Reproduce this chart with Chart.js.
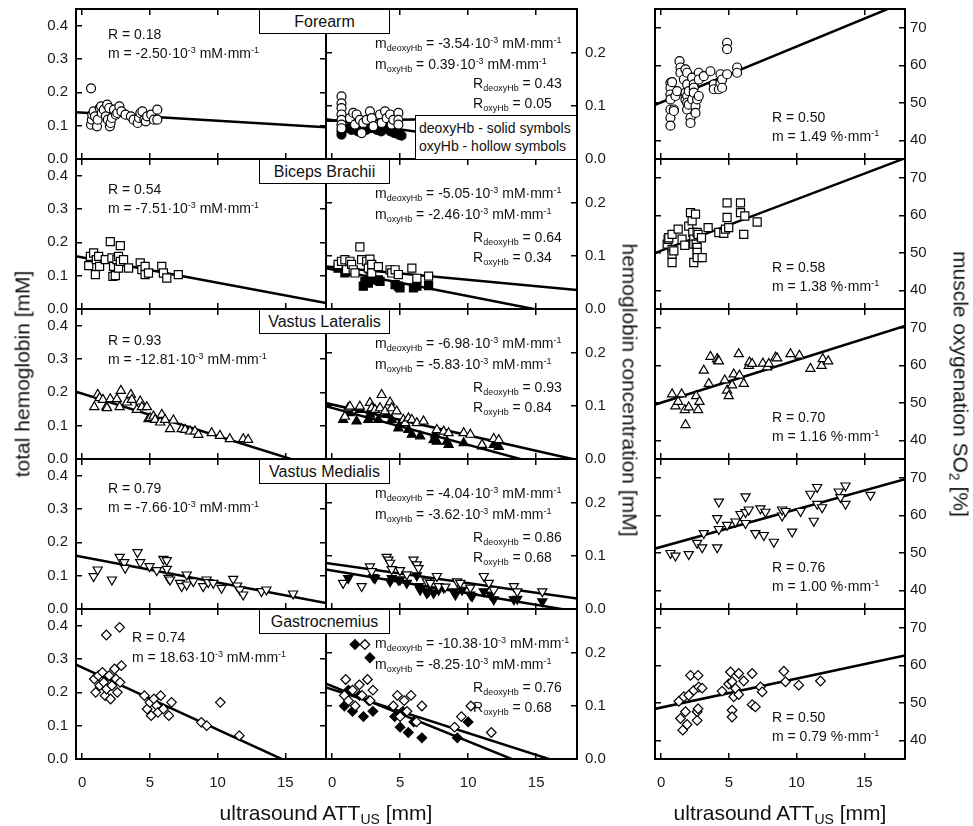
<!DOCTYPE html>
<html>
<head>
<meta charset="utf-8">
<title>Muscle hemoglobin vs ultrasound ATT</title>
<script src="https://cdn.jsdelivr.net/npm/chart.js"></script>
<style>
  body { margin: 0; background: #fff; }
  #fig { position: relative; width: 973px; height: 826px; overflow: hidden; font-family: "Liberation Sans", Arial, Helvetica, sans-serif; color: #111; }
  #fig canvas { position: absolute; left: 0; top: 0; }
  .note { position: absolute; white-space: nowrap; font-size: 14px; line-height: 1; transform: translateY(-50%); }
  .note sup, .note sub { font-size: 9px; line-height: 0; }
  .note sup { vertical-align: 5px; }
  .note sub { vertical-align: -3px; }
  .name { position: absolute; width: 131px; height: 25px; box-sizing: border-box; border: 1px solid #000; background: #fff; font-size: 16px; line-height: 23px; text-align: center; }
  .legend { position: absolute; left: 415px; top: 115px; width: 162px; height: 45px; box-sizing: border-box; border: 1px solid #000; background: #fff; font-size: 14px; line-height: 18px; padding: 3px 0 0 3px; white-space: nowrap; }
  .title { position: absolute; white-space: nowrap; font-size: 21px; line-height: 1; }
  .title sub { font-size: 14px; vertical-align: -4px; line-height: 0; }
</style>
</head>
<body>
<div id="fig">
  <div class="title" style="left:22px; top:374px; transform:translate(-50%,-50%) rotate(-90deg);">total hemoglobin [mM]</div>
  <div class="title" style="left:630px; top:390px; transform:translate(-50%,-50%) rotate(90deg);">hemoglobin concentration [mM]</div>
  <div class="title" style="left:961px; top:384px; transform:translate(-50%,-50%) rotate(90deg);">muscle oxygenation SO<sub>2</sub> [%]</div>
  <div class="title" style="left:326px; top:812px; transform:translate(-50%,-50%);">ultrasound ATT<sub>US</sub> [mm]</div>
  <div class="title" style="left:780px; top:812px; transform:translate(-50%,-50%);">ultrasound ATT<sub>US</sub> [mm]</div>
</div>

<script>
  // tick labels
  const X_TICKS = [0, 5, 10, 15];
  const HB_TICKS = [0, 0.1, 0.2, 0.3, 0.4];
  const CONC_TICKS = [0, 0.1, 0.2];
  const SO2_TICKS = [40, 50, 60, 70];

  const MUSCLES = ['Forearm', 'Biceps Brachii', 'Vastus Lateralis', 'Vastus Medialis', 'Gastrocnemius'];

  // ---- Forearm ----
  const foTot = [[0.66,0.212],[0.66,0.103],[0.72,0.118],[0.75,0.133],[0.85,0.143],[0.95,0.128],[1.10,0.098],[1.15,0.118],[1.30,0.153],[1.40,0.158],[1.45,0.138],[1.60,0.148],[1.75,0.128],[1.85,0.163],[1.90,0.118],[2.00,0.153],[2.05,0.098],[2.10,0.108],[2.20,0.123],[2.35,0.148],[2.50,0.133],[2.60,0.138],[2.75,0.158],[2.90,0.143],[3.20,0.133],[3.60,0.128],[3.80,0.118],[4.10,0.108],[4.20,0.123],[4.30,0.138],[4.45,0.143],[4.60,0.118],[4.70,0.113],[4.80,0.128],[5.10,0.133],[5.30,0.118],[5.55,0.148],[5.55,0.118]];
  const foTotFit = [[-0.45,0.140],[18,0.095]];
  const foDeoxy = [[0.69,0.046],[0.69,0.052],[1.18,0.058],[1.43,0.055],[1.90,0.052],[2.30,0.058],[2.50,0.055],[2.90,0.058],[3.30,0.055],[3.60,0.052],[3.90,0.058],[4.30,0.052],[4.60,0.049],[4.90,0.046],[5.10,0.044]];
  const foOxy = [[0.69,0.118],[0.69,0.105],[0.69,0.096],[0.69,0.084],[0.69,0.074],[0.69,0.065],[0.69,0.058],[1.31,0.077],[1.55,0.087],[1.68,0.065],[1.80,0.084],[2.04,0.074],[2.17,0.049],[2.29,0.068],[2.54,0.074],[2.78,0.090],[2.91,0.077],[3.03,0.062],[3.52,0.084],[3.64,0.068],[3.89,0.090],[4.01,0.077],[4.26,0.084],[4.38,0.065],[4.50,0.074],[4.87,0.087],[4.87,0.074],[4.87,0.065]];
  const foDeoxyFit = [[-0.45,0.075],[18,0.010]];
  const foOxyFit = [[-0.45,0.072],[18,0.079]];
  const foSO2 = [[0.69,55.3],[0.69,54.0],[0.69,52.2],[0.69,50.9],[0.69,48.2],[0.69,46.0],[0.69,43.9],[0.81,55.5],[0.94,48.2],[0.94,47.8],[1.06,51.8],[1.18,53.1],[1.36,61.1],[1.43,59.4],[1.43,58.0],[1.68,56.2],[1.80,58.9],[1.80,52.7],[1.80,50.9],[1.92,58.0],[1.92,54.9],[1.92,51.8],[1.92,50.0],[1.92,48.2],[2.04,53.1],[2.04,49.5],[2.17,46.0],[2.17,44.6],[2.29,56.7],[2.29,50.9],[2.41,54.9],[2.41,54.0],[2.41,52.7],[2.54,49.1],[2.54,47.3],[2.66,50.9],[2.78,58.0],[2.78,56.2],[2.78,51.8],[3.15,57.1],[3.64,58.4],[3.89,54.9],[3.89,53.6],[4.26,53.6],[4.38,57.6],[4.38,55.3],[4.50,56.2],[4.50,54.0],[4.87,66.0],[4.87,64.3],[4.87,57.6],[5.61,59.4],[5.61,58.0]];
  const foSO2Fit = [[-0.54,49.3],[18,76.9]];

  // ---- Biceps Brachii ----
  const biTot = [[0.49,0.130],[0.61,0.158],[0.85,0.168],[0.98,0.103],[1.05,0.148],[1.22,0.158],[1.29,0.128],[1.71,0.148],[2.08,0.202],[2.20,0.153],[2.27,0.098],[2.32,0.128],[2.45,0.100],[2.57,0.148],[2.69,0.158],[2.82,0.190],[2.69,0.123],[2.82,0.143],[3.06,0.148],[3.43,0.123],[4.29,0.138],[4.41,0.118],[4.65,0.128],[4.65,0.103],[4.90,0.108],[5.88,0.128],[6.00,0.108],[6.25,0.093],[7.10,0.103]];
  const biTotFit = [[-0.45,0.158],[18,0.018]];
  const biDeoxy = [[0.44,0.077],[0.94,0.068],[1.55,0.071],[2.29,0.043],[2.41,0.052],[2.66,0.049],[2.78,0.074],[2.91,0.055],[3.40,0.055],[3.52,0.052],[4.63,0.046],[4.87,0.043],[4.99,0.040],[5.98,0.040],[6.23,0.043],[7.09,0.044]];
  const biOxy = [[0.44,0.084],[0.69,0.090],[0.94,0.093],[1.06,0.074],[1.31,0.090],[1.43,0.084],[1.55,0.074],[1.68,0.068],[2.04,0.117],[2.17,0.093],[2.54,0.090],[2.66,0.077],[2.78,0.094],[2.91,0.084],[2.91,0.068],[3.40,0.080],[4.26,0.074],[4.38,0.068],[4.63,0.074],[4.87,0.065],[5.86,0.077],[6.23,0.058],[7.09,0.062]];
  const biDeoxyFit = [[-0.45,0.077],[18,-0.016]];
  const biOxyFit = [[-0.45,0.080],[18,0.036]];
  const biSO2 = [[0.45,52.3],[0.52,53.6],[0.57,54.0],[0.81,54.9],[0.81,50.9],[0.81,49.6],[0.81,47.4],[0.94,50.5],[1.26,56.3],[1.55,53.6],[1.75,52.0],[2.04,57.1],[2.17,60.7],[2.29,58.5],[2.34,55.4],[2.41,53.6],[2.41,52.3],[2.41,47.4],[2.54,60.3],[2.59,52.3],[2.66,55.4],[2.66,51.4],[2.66,50.1],[2.66,48.7],[2.73,54.9],[2.98,54.0],[3.03,48.7],[3.47,56.7],[4.26,55.4],[4.63,55.2],[4.75,56.3],[4.87,63.3],[4.87,59.4],[4.99,56.7],[5.86,63.3],[5.86,60.7],[6.10,54.9],[6.18,59.8],[7.09,58.2]];
  const biSO2Fit = [[-0.54,49.8],[18,75.2]];

  // ---- Vastus Lateralis ----
  const vlTot = [[0.90,0.156],[1.15,0.193],[1.29,0.183],[1.54,0.178],[1.79,0.156],[1.84,0.153],[2.08,0.180],[2.57,0.180],[2.77,0.156],[2.86,0.205],[3.31,0.170],[3.60,0.193],[3.67,0.178],[4.04,0.148],[4.29,0.173],[4.41,0.156],[4.78,0.156],[4.90,0.120],[5.02,0.123],[5.27,0.128],[5.39,0.118],[5.76,0.110],[5.88,0.133],[6.12,0.118],[6.49,0.090],[6.74,0.116],[7.35,0.090],[7.60,0.088],[7.96,0.083],[8.33,0.083],[8.58,0.073],[9.56,0.078],[10.17,0.070],[10.90,0.060],[11.89,0.060],[12.25,0.058]];
  const vlTotFit = [[-0.45,0.202],[18,-0.033]];
  const vlDeoxy = [[0.81,0.074],[1.31,0.087],[1.80,0.071],[2.04,0.093],[2.66,0.074],[2.78,0.084],[3.40,0.074],[4.01,0.084],[4.38,0.074],[4.87,0.058],[4.99,0.065],[5.61,0.055],[5.86,0.046],[6.47,0.043],[7.46,0.036],[7.58,0.046],[7.70,0.033],[8.44,0.033],[8.56,0.027],[9.67,0.030],[11.02,0.024],[11.88,0.027],[12.25,0.023]];
  const vlOxy = [[0.94,0.080],[1.18,0.096],[1.31,0.099],[2.04,0.099],[2.78,0.106],[2.91,0.096],[3.15,0.093],[3.52,0.096],[3.64,0.121],[3.89,0.090],[4.26,0.107],[4.38,0.096],[4.75,0.090],[5.24,0.074],[5.37,0.068],[5.61,0.077],[5.86,0.074],[6.23,0.068],[6.72,0.071],[7.70,0.055],[8.20,0.052],[8.56,0.049],[9.67,0.049],[10.16,0.046],[11.02,0.027],[11.88,0.038],[12.25,0.036]];
  const vlDeoxyFit = [[-0.54,0.100],[18,-0.029]];
  const vlOxyFit = [[-0.54,0.106],[18,-0.002]];
  const vlSO2 = [[0.81,52.3],[1.06,49.1],[1.26,50.3],[1.51,52.3],[1.75,48.1],[1.80,44.1],[2.04,48.8],[2.59,51.8],[2.73,48.1],[2.83,50.3],[3.15,58.6],[3.52,55.1],[3.64,62.3],[4.14,61.7],[4.21,61.2],[4.26,61.1],[4.70,56.0],[4.87,53.3],[4.99,51.8],[5.24,54.7],[5.36,57.6],[5.73,63.0],[5.78,57.3],[6.10,55.1],[6.47,59.9],[6.52,60.8],[6.72,60.4],[7.51,60.5],[7.83,59.5],[7.95,60.4],[8.44,62.1],[8.56,61.9],[9.55,63.0],[10.21,62.6],[11.02,59.1],[11.84,59.9],[11.93,61.7],[12.33,61.1]];
  const vlSO2Fit = [[-0.54,49.4],[18,70.5]];

  // ---- Vastus Medialis ----
  const vmTot = [[0.85,0.098],[1.15,0.118],[2.20,0.088],[2.77,0.156],[3.11,0.140],[3.18,0.123],[4.09,0.170],[4.29,0.140],[4.98,0.128],[5.51,0.116],[6.00,0.150],[6.25,0.146],[6.25,0.120],[6.37,0.093],[6.49,0.088],[7.23,0.078],[7.35,0.068],[7.72,0.103],[7.72,0.073],[8.21,0.083],[8.94,0.068],[9.19,0.088],[9.31,0.080],[9.68,0.078],[10.29,0.063],[11.15,0.090],[11.44,0.070],[11.64,0.058],[11.89,0.043],[13.24,0.053],[13.60,0.058],[15.57,0.046]];
  const vmTotFit = [[-0.45,0.160],[18,0.018]];
  const vmDeoxy = [[1.18,0.058],[3.03,0.060],[3.15,0.058],[4.26,0.052],[4.38,0.058],[4.87,0.055],[4.99,0.055],[5.49,0.049],[6.23,0.063],[6.35,0.043],[6.47,0.036],[6.96,0.030],[7.09,0.033],[7.46,0.030],[7.83,0.036],[8.20,0.040],[8.93,0.033],[9.06,0.027],[9.55,0.036],[10.16,0.027],[10.29,0.024],[11.15,0.033],[11.64,0.027],[11.88,0.018],[13.36,0.018],[13.61,0.019],[15.45,0.014]];
  const vmOxy = [[0.81,0.049],[2.17,0.043],[2.78,0.080],[2.91,0.071],[4.01,0.098],[4.14,0.093],[4.26,0.087],[4.38,0.075],[4.99,0.073],[5.49,0.065],[5.98,0.093],[6.23,0.084],[6.35,0.077],[6.96,0.052],[7.21,0.049],[7.70,0.062],[7.83,0.043],[8.32,0.042],[9.18,0.052],[9.42,0.049],[10.16,0.040],[11.15,0.062],[11.52,0.049],[11.88,0.036],[13.36,0.043],[13.61,0.033],[15.45,0.033]];
  const vmDeoxyFit = [[-0.54,0.075],[18,-0.005]];
  const vmOxyFit = [[-0.54,0.087],[18,0.020]];
  const vmSO2 = [[0.69,49.9],[1.06,49.2],[2.04,49.6],[2.66,52.6],[3.03,51.4],[3.15,55.2],[4.14,51.4],[4.14,59.2],[4.26,63.6],[4.26,56.3],[4.87,57.4],[5.49,58.3],[5.86,60.3],[6.23,65.0],[6.23,60.8],[6.23,57.9],[6.47,61.5],[6.96,55.2],[7.33,61.8],[7.58,54.7],[7.70,60.9],[8.32,52.9],[8.93,59.9],[8.93,61.5],[9.18,61.1],[9.67,55.6],[10.29,61.1],[11.02,65.7],[11.27,58.5],[11.52,67.5],[11.52,63.0],[11.88,62.1],[13.11,66.3],[13.24,64.8],[13.61,67.9],[13.61,63.0],[15.45,65.4]];
  const vmSO2Fit = [[-0.54,51.0],[18,69.6]];

  // ---- Gastrocnemius ----
  const gaTot = [[1.79,0.372],[2.77,0.395],[0.9,0.24],[1.0,0.20],[1.2,0.25],[1.3,0.22],[1.5,0.26],[1.6,0.23],[1.7,0.19],[1.8,0.21],[2.0,0.25],[2.1,0.18],[2.2,0.22],[2.4,0.27],[2.5,0.24],[2.6,0.20],[2.8,0.23],[2.9,0.28],[4.6,0.19],[4.8,0.15],[5.0,0.17],[5.1,0.13],[5.3,0.18],[5.5,0.16],[5.6,0.14],[5.8,0.19],[6.0,0.15],[6.4,0.13],[6.6,0.17],[8.8,0.11],[9.2,0.10],[10.2,0.17],[11.6,0.07]];
  const gaTotFit = [[-0.45,0.283],[18,-0.061]];
  const gaDeoxy = [[1.68,0.216],[2.78,0.191],[0.9,0.10],[1.2,0.13],[1.5,0.09],[2.0,0.12],[2.3,0.08],[2.7,0.11],[3.0,0.09],[4.6,0.08],[5.0,0.06],[5.2,0.09],[5.6,0.05],[6.0,0.07],[6.6,0.04],[9.2,0.04],[10.0,0.07]];
  const gaOxy = [[2.41,0.216],[0.9,0.12],[1.0,0.15],[1.2,0.11],[1.5,0.13],[1.7,0.10],[2.0,0.14],[2.2,0.12],[2.6,0.15],[2.8,0.11],[3.0,0.13],[4.5,0.10],[4.8,0.12],[5.0,0.08],[5.3,0.11],[5.5,0.09],[5.8,0.12],[6.2,0.07],[6.6,0.10],[9.0,0.06],[9.5,0.08],[10.2,0.10],[11.7,0.05]];
  const gaDeoxyFit = [[-0.45,0.142],[18,-0.050]];
  const gaOxyFit = [[-0.45,0.135],[18,-0.017]];
  const gaSO2 = [[1.31,50.4],[1.43,45.8],[1.60,42.7],[1.68,51.6],[1.80,47.6],[1.92,44.2],[2.04,52.0],[2.17,57.3],[2.41,53.3],[2.66,47.6],[2.66,45.3],[2.73,57.3],[2.73,48.4],[2.78,54.2],[3.03,53.9],[4.50,53.1],[4.99,55.0],[5.12,58.2],[5.24,48.0],[5.24,46.2],[5.24,55.6],[5.36,51.6],[5.49,53.8],[5.73,57.8],[5.73,52.2],[6.10,55.8],[6.72,57.8],[6.72,49.5],[6.96,48.9],[7.33,54.2],[7.46,52.9],[9.06,58.4],[9.18,55.6],[10.16,54.7],[11.76,55.8]];
  const gaSO2Fit = [[-0.54,48.3],[18,62.6]];

  // ---- layout ----
  const W = 973, H = 826;
  const FONT = '"Liberation Sans", Arial, Helvetica, sans-serif';
  const COLS = [[76, 326], [326, 577], [655, 905]];
  const ROW_TOPS = [9, 159, 309, 459, 609];
  const ROW_H = 150;
  const X_RANGE = [-0.45, 18];
  const Y_RANGES = [[0, 0.45], [0, 0.283], [35, 75]];
  const Y_TICKS = [HB_TICKS, CONC_TICKS, SO2_TICKS];
  const MARKERS = ['circle', 'rect', 'triangle', 'triangle', 'rectRot'];
  const ROTS = [0, 0, 0, 180, 0];
  const RADII = [4.5, 5.7, 5.3, 5.3, 4.8];

  const fig = document.getElementById('fig');

  const pts = arr => arr.map(([x, y]) => ({ x, y }));

  function scatterSet(arr, row, filled, order) {
    return {
      data: pts(arr), showLine: false, order,
      pointStyle: MARKERS[row], pointRotation: ROTS[row], pointRadius: RADII[row],
      pointBorderWidth: 1.2, pointBorderColor: '#000',
      pointBackgroundColor: filled ? '#000' : '#fff'
    };
  }

  function fitSet(arr) {
    return { data: pts(arr), showLine: true, pointRadius: 0, borderColor: '#000', borderWidth: 2.5, clip: 0, order: 10 };
  }

  // every axis box is stretched to the full margin on its side, so labels are not clipped
  function axis(position, range, ticks, showLabels, pad, fmt, size) {
    const vertical = position === 'left' || position === 'right';
    return {
      type: 'linear', axis: vertical ? 'y' : 'x', position,
      min: range[0], max: range[1],
      afterBuildTicks: s => { s.ticks = ticks.map(v => ({ value: v })); },
      afterFit: s => {
        if (vertical) s.width = size; else s.height = size;
        s.paddingTop = s.paddingBottom = s.paddingLeft = s.paddingRight = 0;
      },
      border: { display: true, color: '#000', width: 2 },
      grid: { display: true, drawOnChartArea: false, drawTicks: true, tickLength: -6, color: '#000', lineWidth: 1.5 },
      ticks: { display: showLabels, padding: pad, color: '#1a1a1a', autoSkip: false, maxRotation: 0,
               font: { family: FONT, size: 15 }, callback: fmt }
    };
  }

  function addPanel(col, row, datasets) {
    const [l, r] = COLS[col];
    const t = ROW_TOPS[row], b = t + ROW_H;
    const cv = document.createElement('canvas');
    cv.width = W; cv.height = H;
    cv.style.width = W + 'px'; cv.style.height = H + 'px';
    fig.insertBefore(cv, fig.firstChild);
    const yFmt = col === 2 ? v => String(v) : v => v.toFixed(1);
    const xFmt = v => String(v);
    const yPad = col === 2 ? 11 : 14;
    new Chart(cv, {
      type: 'scatter',
      data: { datasets },
      options: {
        responsive: false, animation: false, devicePixelRatio: 1, events: [],
        layout: { autoPadding: false, padding: 0 },
        plugins: { legend: { display: false }, tooltip: { enabled: false } },
        scales: {
          x: axis('bottom', X_RANGE, X_TICKS, row === 4, 21, xFmt, H - b),
          xt: axis('top', X_RANGE, X_TICKS, false, 0, xFmt, t),
          y: axis('left', Y_RANGES[col], Y_TICKS[col], col === 0, yPad, yFmt, l),
          yr: axis('right', Y_RANGES[col], Y_TICKS[col], col !== 0, yPad, yFmt, W - r)
        }
      }
    });
  }

  const TOT = [[foTot, foTotFit], [biTot, biTotFit], [vlTot, vlTotFit], [vmTot, vmTotFit], [gaTot, gaTotFit]];
  const CONC = [
    [foDeoxy, foOxy, foDeoxyFit, foOxyFit],
    [biDeoxy, biOxy, biDeoxyFit, biOxyFit],
    [vlDeoxy, vlOxy, vlDeoxyFit, vlOxyFit],
    [vmDeoxy, vmOxy, vmDeoxyFit, vmOxyFit],
    [gaDeoxy, gaOxy, gaDeoxyFit, gaOxyFit]
  ];
  const SAT = [[foSO2, foSO2Fit], [biSO2, biSO2Fit], [vlSO2, vlSO2Fit], [vmSO2, vmSO2Fit], [gaSO2, gaSO2Fit]];

  for (let row = 0; row < 5; row++) {
    addPanel(0, row, [scatterSet(TOT[row][0], row, false, 1), fitSet(TOT[row][1])]);
    const [de, ox, deFit, oxFit] = CONC[row];
    addPanel(1, row, [scatterSet(ox, row, false, 1), scatterSet(de, row, true, 2), fitSet(deFit), fitSet(oxFit)]);
    addPanel(2, row, [scatterSet(SAT[row][0], row, false, 1), fitSet(SAT[row][1])]);
  }

  // ---- annotations ----
  const R_TOT = ['0.18', '0.54', '0.93', '0.79', '0.74'];
  const M_TOT = ['-2.50', '-7.51', '-12.81', '-7.66', '18.63'];
  const M_DEOXY = ['-3.54', '-5.05', '-6.98', '-4.04', '-10.38'];
  const M_OXY = ['0.39', '-2.46', '-5.83', '-3.62', '-8.25'];
  const R_DEOXY = ['0.43', '0.64', '0.93', '0.86', '0.76'];
  const R_OXY = ['0.05', '0.34', '0.84', '0.68', '0.68'];
  const R_SAT = ['0.50', '0.58', '0.70', '0.76', '0.50'];
  const M_SAT = ['1.49', '1.38', '1.16', '1.00', '0.79'];

  function note(x, y, html, cls) {
    const d = document.createElement('div');
    d.className = cls || 'note';
    d.style.left = x + 'px';
    d.style.top = y + 'px';
    d.innerHTML = html;
    fig.appendChild(d);
    return d;
  }

  const totR = [34, 189, 340, 488, 637];
  const totM = [53, 208, 359, 507, 657];
  for (let row = 0; row < 5; row++) {
    const t = ROW_TOPS[row];
    const x1 = row === 4 ? 132 : 108;
    note(x1, totR[row], 'R = ' + R_TOT[row]);
    note(x1, totM[row], 'm = ' + M_TOT[row] + '&middot;10<sup>-3</sup> mM&middot;mm<sup>-1</sup>');
    const rOff = row === 0 ? [74, 94] : [78, 98];
    note(375, t + 34, 'm<sub>deoxyHb</sub> = ' + M_DEOXY[row] + '&middot;10<sup>-3</sup> mM&middot;mm<sup>-1</sup>');
    note(375, t + 55, 'm<sub>oxyHb</sub> = ' + M_OXY[row] + '&middot;10<sup>-3</sup> mM&middot;mm<sup>-1</sup>');
    note(473, t + rOff[0], 'R<sub>deoxyHb</sub> = ' + R_DEOXY[row]);
    note(473, t + rOff[1], 'R<sub>oxyHb</sub> = ' + R_OXY[row]);
    note(772, t + 108, 'R = ' + R_SAT[row]);
    note(772, t + 127, 'm = ' + M_SAT[row] + ' %&middot;mm<sup>-1</sup>');
    note(259, t, MUSCLES[row], 'name');
  }

  const lg = document.createElement('div');
  lg.className = 'legend';
  lg.innerHTML = 'deoxyHb - solid symbols<br>oxyHb - hollow symbols';
  fig.appendChild(lg);
</script>
</body>
</html>
